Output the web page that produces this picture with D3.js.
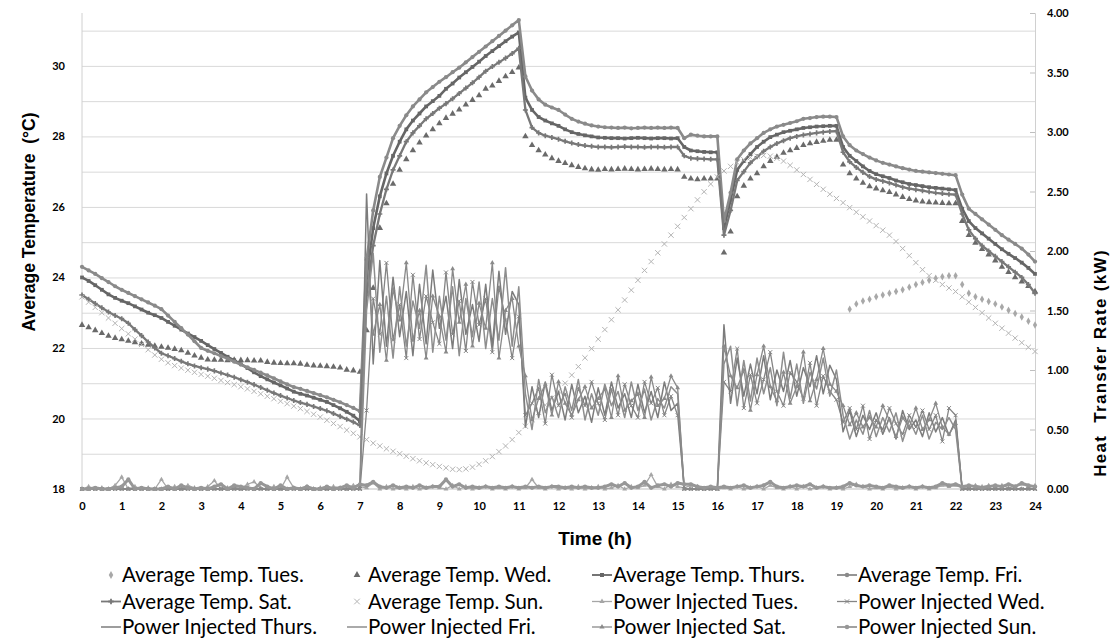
<!DOCTYPE html>
<html>
<head>
<meta charset="utf-8">
<script src="https://cdn.jsdelivr.net/npm/d3@7"></script>
<style>
  body { margin: 0; background: #fff; }
  text { fill: #000; }
</style>
</head>
<body>
<div id="chart"></div>
<script>
// Data (one row per hour, samples every 10 minutes)
const _ = null;
const hours = d3.range(0, 145).map(i => i / 6);
const hourTicks = d3.range(0, 25);
const tempTicks = [18, 20, 22, 24, 26, 28, 30];
const tempGrid = [19, 20, 21, 22, 23, 24, 25, 26, 27, 28, 29, 30, 31];
const powerTicks = [0, 0.5, 1, 1.5, 2, 2.5, 3, 3.5, 4];

const tempTues = [
  [_,_,_,_,_,_],[_,_,_,_,_,_],[_,_,_,_,_,_],[_,_,_,_,_,_],[_,_,_,_,_,_],
  [_,_,_,_,_,_],[_,_,_,_,_,_],[_,_,_,_,_,_],[_,_,_,_,_,_],[_,_,_,_,_,_],
  [_,_,_,_,_,_],[_,_,_,_,_,_],[_,_,_,_,_,_],[_,_,_,_,_,_],[_,_,_,_,_,_],
  [_,_,_,_,_,_],[_,_,_,_,_,_],[_,_,_,_,_,_],[_,_,_,_,_,_],
  [_, _, 23.10, 23.25, 23.33, 23.38],
  [23.45, 23.50, 23.55, 23.60, 23.65, 23.72],
  [23.80, 23.86, 23.92, 23.98, 24.02, 24.05],
  [24.05, 23.80, 23.55, 23.45, 23.38, 23.32],
  [23.25, 23.16, 23.07, 22.98, 22.88, 22.76],
  [22.65]
].flat();

const tempWed = [
  [22.65, 22.58, 22.50, 22.42, 22.34, 22.28],
  [22.24, 22.20, 22.16, 22.12, 22.09, 22.06],
  [22.03, 22.00, 21.97, 21.93, 21.86, 21.78],
  [21.72, 21.67, 21.66, 21.66, 21.65, 21.66],
  [21.65, 21.65, 21.64, 21.64, 21.60, 21.58],
  [21.57, 21.56, 21.56, 21.55, 21.52, 21.50],
  [21.49, 21.48, 21.46, 21.44, 21.38, 21.36],
  [21.32, 22.50, 23.70, 25.40, 26.10, 26.65],
  [27.05, 27.35, 27.60, 27.82, 28.02, 28.20],
  [28.37, 28.52, 28.64, 28.76, 28.90, 29.03],
  [29.16, 29.35, 29.44, 29.57, 29.70, 29.82],
  [29.95, 28.00, 27.75, 27.60, 27.48, 27.38],
  [27.30, 27.24, 27.18, 27.13, 27.09, 27.06],
  [27.05, 27.07, 27.06, 27.07, 27.08, 27.07],
  [27.06, 27.07, 27.08, 27.07, 27.06, 27.07],
  [27.06, 26.85, 26.80, 26.78, 26.80, 26.80],
  [26.80, 24.70, 25.30, 26.30, 26.60, 26.80],
  [26.95, 27.15, 27.30, 27.42, 27.53, 27.60],
  [27.67, 27.75, 27.80, 27.84, 27.87, 27.90],
  [27.90, 27.20, 26.95, 26.80, 26.68, 26.58],
  [26.52, 26.47, 26.42, 26.35, 26.28, 26.22],
  [26.18, 26.15, 26.13, 26.12, 26.11, 26.10],
  [26.10, 25.60, 25.20, 24.98, 24.80, 24.65],
  [24.48, 24.30, 24.15, 24.00, 23.88, 23.75],
  [23.60]
].flat();

const tempThurs = [
  [24.00, 23.90, 23.78, 23.65, 23.52, 23.42],
  [23.34, 23.27, 23.18, 23.09, 23.00, 22.93],
  [22.85, 22.74, 22.63, 22.52, 22.41, 22.31],
  [22.20, 22.08, 21.97, 21.86, 21.75, 21.65],
  [21.54, 21.43, 21.31, 21.20, 21.11, 21.02],
  [20.94, 20.85, 20.76, 20.70, 20.65, 20.59],
  [20.53, 20.47, 20.38, 20.29, 20.19, 20.08],
  [19.92, 24.00, 25.40, 26.30, 26.95, 27.45],
  [27.85, 28.20, 28.45, 28.65, 28.85, 29.00],
  [29.15, 29.35, 29.50, 29.67, 29.82, 29.97],
  [30.12, 30.28, 30.42, 30.56, 30.70, 30.83],
  [30.95, 29.10, 28.75, 28.55, 28.45, 28.37],
  [28.30, 28.20, 28.12, 28.07, 28.03, 28.00],
  [27.97, 27.96, 27.95, 27.95, 27.94, 27.95],
  [27.96, 27.95, 27.94, 27.95, 27.95, 27.94],
  [27.95, 27.70, 27.60, 27.58, 27.56, 27.55],
  [27.55, 25.40, 26.20, 27.05, 27.30, 27.50],
  [27.70, 27.85, 27.98, 28.05, 28.12, 28.16],
  [28.20, 28.24, 28.26, 28.28, 28.29, 28.30],
  [28.30, 27.70, 27.45, 27.30, 27.15, 27.02],
  [26.93, 26.87, 26.82, 26.75, 26.70, 26.65],
  [26.62, 26.59, 26.56, 26.54, 26.52, 26.50],
  [26.48, 25.95, 25.60, 25.40, 25.25, 25.10],
  [24.95, 24.80, 24.67, 24.55, 24.42, 24.27],
  [24.10]
].flat();

const tempFri = [
  [24.30, 24.20, 24.10, 23.98, 23.87, 23.75],
  [23.65, 23.56, 23.47, 23.38, 23.29, 23.20],
  [23.10, 22.92, 22.74, 22.56, 22.38, 22.19],
  [22.00, 21.92, 21.85, 21.77, 21.70, 21.61],
  [21.53, 21.45, 21.38, 21.30, 21.22, 21.14],
  [21.05, 20.97, 20.89, 20.84, 20.78, 20.72],
  [20.66, 20.60, 20.53, 20.46, 20.38, 20.30],
  [20.20, 24.50, 25.90, 26.85, 27.40, 27.95],
  [28.30, 28.60, 28.85, 29.05, 29.25, 29.40],
  [29.55, 29.68, 29.82, 29.95, 30.10, 30.25],
  [30.40, 30.55, 30.70, 30.85, 31.00, 31.15],
  [31.30, 29.70, 29.30, 29.05, 28.90, 28.82],
  [28.75, 28.62, 28.50, 28.42, 28.36, 28.31],
  [28.28, 28.26, 28.25, 28.24, 28.25, 28.23],
  [28.24, 28.25, 28.24, 28.25, 28.24, 28.25],
  [28.24, 27.95, 28.05, 28.02, 28.00, 28.00],
  [28.00, 25.60, 26.40, 27.35, 27.60, 27.80],
  [27.95, 28.10, 28.20, 28.28, 28.33, 28.38],
  [28.43, 28.50, 28.52, 28.55, 28.56, 28.56],
  [28.55, 28.00, 27.75, 27.60, 27.50, 27.40],
  [27.32, 27.25, 27.20, 27.15, 27.10, 27.06],
  [27.02, 27.00, 26.98, 26.96, 26.94, 26.92],
  [26.90, 26.35, 25.95, 25.80, 25.65, 25.50],
  [25.35, 25.20, 25.07, 24.95, 24.82, 24.65],
  [24.45]
].flat();

const tempSat = [
  [23.50, 23.38, 23.26, 23.14, 23.02, 22.92],
  [22.83, 22.70, 22.52, 22.35, 22.17, 22.00],
  [21.85, 21.78, 21.70, 21.62, 21.55, 21.49],
  [21.44, 21.40, 21.35, 21.29, 21.23, 21.17],
  [21.10, 21.03, 20.96, 20.88, 20.80, 20.72],
  [20.65, 20.58, 20.51, 20.45, 20.40, 20.34],
  [20.28, 20.22, 20.14, 20.06, 19.98, 19.90],
  [19.80, 23.50, 24.90, 25.80, 26.50, 27.05],
  [27.45, 27.85, 28.10, 28.30, 28.50, 28.65],
  [28.80, 28.93, 29.07, 29.22, 29.37, 29.52],
  [29.68, 29.85, 29.98, 30.10, 30.22, 30.35],
  [30.50, 28.75, 28.25, 28.10, 28.02, 27.97],
  [27.92, 27.86, 27.81, 27.77, 27.74, 27.72],
  [27.70, 27.70, 27.69, 27.70, 27.71, 27.70],
  [27.70, 27.69, 27.70, 27.70, 27.69, 27.70],
  [27.70, 27.45, 27.38, 27.37, 27.36, 27.35],
  [27.35, 25.20, 25.90, 26.75, 27.00, 27.25],
  [27.42, 27.58, 27.70, 27.80, 27.88, 27.95],
  [28.00, 28.04, 28.07, 28.10, 28.12, 28.14],
  [28.15, 27.55, 27.28, 27.12, 26.98, 26.86],
  [26.78, 26.73, 26.68, 26.62, 26.56, 26.52],
  [26.49, 26.46, 26.43, 26.40, 26.38, 26.36],
  [26.35, 25.80, 25.35, 25.10, 24.90, 24.75],
  [24.60, 24.45, 24.30, 24.15, 24.00, 23.80],
  [23.55]
].flat();

const tempSun = [
  [23.45, 23.30, 23.15, 23.00, 22.85, 22.70],
  [22.55, 22.40, 22.25, 22.10, 21.95, 21.80],
  [21.68, 21.58, 21.50, 21.43, 21.37, 21.31],
  [21.25, 21.20, 21.14, 21.08, 21.02, 20.96],
  [20.90, 20.84, 20.77, 20.70, 20.63, 20.56],
  [20.49, 20.42, 20.35, 20.28, 20.20, 20.12],
  [20.04, 19.95, 19.86, 19.77, 19.67, 19.58],
  [19.48, 19.40, 19.30, 19.22, 19.14, 19.07],
  [19.00, 18.93, 18.86, 18.80, 18.74, 18.69],
  [18.64, 18.60, 18.56, 18.55, 18.57, 18.62],
  [18.70, 18.80, 18.92, 19.06, 19.22, 19.40],
  [19.60, 19.78, 19.97, 20.17, 20.38, 20.58],
  [20.78, 21.00, 21.23, 21.47, 21.72, 21.98],
  [22.25, 22.52, 22.80, 23.08, 23.36, 23.64],
  [23.92, 24.20, 24.45, 24.70, 24.95, 25.20],
  [25.45, 25.70, 25.95, 26.20, 26.43, 26.65],
  [26.85, 27.02, 27.15, 27.26, 27.34, 27.40],
  [27.44, 27.46, 27.44, 27.38, 27.30, 27.18],
  [27.05, 26.92, 26.78, 26.64, 26.50, 26.36],
  [26.24, 26.12, 25.98, 25.85, 25.72, 25.60],
  [25.47, 25.34, 25.20, 25.02, 24.82, 24.62],
  [24.42, 24.22, 24.05, 23.92, 23.80, 23.70],
  [23.60, 23.45, 23.30, 23.15, 23.00, 22.85],
  [22.70, 22.56, 22.42, 22.28, 22.15, 22.02],
  [21.90]
].flat();

// Power injected (kW)
const powerTues = [
  [0, 0.02, 0, 0.01, 0, 0.03], [0.10, 0, 0.02, 0, 0.01, 0], [0.08, 0, 0.02, 0, 0.03, 0.01],
  [0, 0.02, 0.07, 0, 0.01, 0.02], [0, 0.04, 0.06, 0.01, 0, 0.02], [0, 0.10, 0.01, 0, 0.02, 0],
  [0.01, 0, 0.02, 0.01, 0, 0.03], [0.02, 0.01, 0.05, 0, 0.02, 0], [0.01, 0, 0.02, 0, 0.01, 0.02],
  [0.01, 0, 0.03, 0, 0.02, 0], [0.01, 0.02, 0, 0.01, 0, 0.02], [0, 0.01, 0.08, 0.01, 0, 0.02],
  [0, 0.01, 0, 0.02, 0, 0.01], [0.02, 0, 0.01, 0.03, 0, 0.02], [0.01, 0.03, 0.12, 0.02, 0, 0.04],
  [0.02, 0.01, 0.03, 0.02, 0, 0.01], [0, 0.01, 0, 0.02, 0, 0.01], [0.02, 0, 0.03, 0.01, 0, 0.02],
  [0, 0.02, 0, 0.01, 0.02, 0], [0.01, 0, 0.02, 0.04, 0.02, 0], [0.01, 0, 0.02, 0, 0.01, 0.02],
  [0, 0.02, 0, 0.01, 0.03, 0.02], [0.03, 0.01, 0.02, 0.03, 0.02, 0.03], [0.02, 0.03, 0.01, 0.02, 0.04, 0.02],
  [0.03]
].flat();

const powerWed = [
  [0,0,0,0,0,0],[0,0,0,0,0,0],[0,0,0,0,0,0],[0,0,0,0,0,0],[0,0,0,0,0,0],[0,0,0,0,0,0],[0,0,0,0,0,0],
  [0, 0.66, 1.60, 1.30, 1.90, 1.25],
  [1.55, 1.10, 1.80, 1.26, 1.62, 1.40],
  [1.22, 1.82, 1.30, 1.58, 1.16, 1.74],
  [1.38, 1.60, 1.15, 1.70, 1.42, 1.10],
  [1.45, 0.62, 0.72, 0.85, 0.55, 0.96],
  [0.70, 0.80, 0.60, 0.85, 0.70, 0.90],
  [0.72, 0.58, 0.84, 0.62, 0.88, 0.70],
  [0.60, 0.90, 0.72, 0.85, 0.62, 0.78],
  [0.62, 0, 0, 0, 0, 0],
  [0, 0.90, 0.82, 1.18, 0.68, 0.96],
  [0.72, 0.92, 1.15, 0.82, 0.70, 0.98],
  [0.90, 0.76, 1.06, 0.70, 0.95, 0.82],
  [0.75, 0.56, 0.68, 0.50, 0.70, 0.42],
  [0.58, 0.50, 0.68, 0.55, 0.46, 0.62],
  [0.52, 0.66, 0.50, 0.62, 0.40, 0.68],
  [0.62, 0, 0, 0, 0, 0],
  [0,0,0,0,0,0],
  [0]
].flat();

const powerThurs = [
  [0,0,0,0,0,0],[0,0,0,0,0,0],[0,0,0,0,0,0],[0,0,0,0,0,0],[0,0,0,0,0,0],[0,0,0,0,0,0],[0,0,0,0,0,0],
  [0, 2.48, 1.05, 1.92, 1.20, 1.78],
  [1.28, 1.66, 1.12, 1.72, 1.22, 1.84],
  [1.35, 1.62, 1.18, 1.76, 1.30, 1.55],
  [1.24, 1.72, 1.20, 1.83, 1.30, 1.66],
  [1.55, 0.52, 0.86, 0.60, 0.90, 0.66],
  [0.82, 0.58, 0.88, 0.64, 0.78, 0.56],
  [0.85, 0.62, 0.90, 0.68, 0.80, 0.60],
  [0.88, 0.64, 0.82, 0.60, 0.90, 0.66],
  [0.72, 0, 0, 0, 0, 0],
  [0, 1.38, 0.72, 1.10, 0.78, 1.05],
  [0.80, 1.12, 0.75, 1.00, 0.82, 1.08],
  [0.78, 1.02, 0.86, 1.12, 0.80, 1.04],
  [0.92, 0.48, 0.66, 0.44, 0.62, 0.50],
  [0.64, 0.46, 0.60, 0.42, 0.66, 0.50],
  [0.58, 0.44, 0.64, 0.48, 0.60, 0.45],
  [0.58, 0, 0, 0, 0, 0],
  [0,0,0,0,0,0],
  [0]
].flat();

const powerFri = [
  [0,0,0,0,0,0],[0,0,0,0,0,0],[0,0,0,0,0,0],[0,0,0,0,0,0],[0,0,0,0,0,0],[0,0,0,0,0,0],[0,0,0,0,0,0],
  [0, 1.50, 1.98, 1.15, 1.62, 1.10],
  [1.70, 1.20, 1.58, 1.35, 1.88, 1.15],
  [1.62, 1.25, 1.70, 1.12, 1.60, 1.28],
  [1.74, 1.18, 1.60, 1.25, 1.86, 1.20],
  [1.70, 0.80, 0.50, 0.92, 0.64, 0.78],
  [0.60, 0.86, 0.66, 0.92, 0.58, 0.80],
  [0.62, 0.88, 0.70, 0.82, 0.60, 0.90],
  [0.66, 0.84, 0.58, 0.76, 0.68, 0.86],
  [0.80, 0, 0, 0, 0, 0],
  [0, 1.05, 1.20, 0.70, 1.08, 0.74],
  [1.10, 0.80, 1.02, 0.70, 1.15, 0.76],
  [1.05, 0.72, 0.98, 0.84, 1.10, 0.78],
  [1.00, 0.62, 0.42, 0.58, 0.46, 0.66],
  [0.44, 0.60, 0.48, 0.64, 0.40, 0.58],
  [0.46, 0.62, 0.42, 0.56, 0.50, 0.60],
  [0.50, 0, 0, 0, 0, 0],
  [0,0,0,0,0,0],
  [0]
].flat();

const powerSat = [
  [0,0,0,0,0,0],[0,0,0,0,0,0],[0,0,0,0,0,0],[0,0,0,0,0,0],[0,0,0,0,0,0],[0,0,0,0,0,0],[0,0,0,0,0,0],
  [0, 1.95, 1.30, 1.55, 1.08, 1.68],
  [1.42, 1.90, 1.25, 1.50, 1.10, 1.62],
  [1.45, 1.15, 1.85, 1.40, 1.72, 1.20],
  [1.56, 1.35, 1.90, 1.10, 1.50, 1.60],
  [1.20, 0.95, 0.58, 0.76, 0.88, 0.62],
  [0.90, 0.72, 0.62, 0.75, 0.86, 0.68],
  [0.76, 0.84, 0.60, 0.95, 0.66, 0.74],
  [0.80, 0.60, 0.94, 0.70, 0.76, 0.95],
  [0.85, 0, 0, 0, 0, 0],
  [0, 1.20, 0.95, 0.85, 1.00, 0.66],
  [0.96, 1.20, 0.86, 0.74, 0.98, 0.72],
  [0.86, 1.15, 0.74, 0.92, 1.18, 0.88],
  [0.82, 0.70, 0.54, 0.64, 0.52, 0.60],
  [0.52, 0.70, 0.58, 0.44, 0.60, 0.52],
  [0.68, 0.50, 0.58, 0.72, 0.52, 0.46],
  [0.55, 0, 0, 0, 0, 0],
  [0,0,0,0,0,0],
  [0]
].flat();

const powerSun = [
  [0, 0, 0.01, 0, 0, 0.01], [0.02, 0.08, 0, 0.01, 0, 0], [0, 0.02, 0, 0.03, 0.01, 0],
  [0.01, 0, 0.02, 0.04, 0, 0.03], [0.02, 0.01, 0, 0.05, 0.02, 0], [0.03, 0, 0.01, 0, 0.02, 0],
  [0, 0.02, 0, 0.01, 0.03, 0.01], [0.04, 0.03, 0.06, 0.02, 0.01, 0.03], [0.01, 0.02, 0.01, 0.03, 0.01, 0.02],
  [0.02, 0.08, 0.02, 0.04, 0.01, 0.02], [0.01, 0.02, 0.01, 0.02, 0.01, 0.02], [0.01, 0.02, 0.01, 0.02, 0.01, 0.02],
  [0.02, 0.01, 0.02, 0.01, 0.02, 0.01], [0.01, 0.02, 0.04, 0.02, 0.05, 0.01], [0.02, 0.06, 0.01, 0.03, 0.04, 0.02],
  [0.05, 0.04, 0.04, 0.02, 0.01, 0.02], [0.01, 0.02, 0.01, 0.02, 0.03, 0.01], [0.02, 0.03, 0.06, 0.02, 0.01, 0.02],
  [0.03, 0.02, 0.04, 0.01, 0.02, 0.01], [0.01, 0.02, 0.05, 0.03, 0.02, 0.03], [0.02, 0.01, 0.03, 0.02, 0.01, 0.02],
  [0.01, 0.02, 0.01, 0.02, 0.05, 0.03], [0.04, 0.02, 0.03, 0.02, 0.01, 0.02], [0.03, 0.02, 0.04, 0.02, 0.05, 0.03],
  [0.02]
].flat();

// Layout
const W = 1111, H = 640;
const plotLeft = 82, plotRight = 1035, plotTop = 13, plotBottom = 489;

const svg = d3.select("#chart").append("svg")
    .attr("width", W)
    .attr("height", H)
    .style("font-family", "Lato, 'Open Sans', sans-serif");

const x = d3.scaleLinear().domain([0, 24]).range([plotLeft, plotRight]);
const yT = d3.scaleLinear().domain([18, 31.5]).range([plotBottom, plotTop]);
const yP = d3.scaleLinear().domain([0, 4]).range([plotBottom, plotTop]);

// gridlines
svg.append("g")
    .attr("transform", `translate(${plotLeft},0)`)
    .call(d3.axisLeft(yT).tickValues(tempGrid).tickSize(-(plotRight - plotLeft)).tickFormat(""))
    .call(g => g.select(".domain").remove())
    .call(g => g.selectAll("line").attr("stroke", "#d9d9d9").attr("stroke-width", 1));

// axis lines
svg.append("line").attr("x1", plotLeft).attr("x2", plotLeft).attr("y1", plotTop).attr("y2", plotBottom)
    .attr("stroke", "#d0d0d0");
svg.append("line").attr("x1", plotLeft).attr("x2", plotRight).attr("y1", plotBottom).attr("y2", plotBottom)
    .attr("stroke", "#bfbfbf");

// left axis labels
svg.append("g")
    .attr("transform", `translate(${plotLeft},0)`)
    .call(d3.axisLeft(yT).tickValues(tempTicks).tickSize(0).tickPadding(17).tickFormat(d3.format("d")))
    .call(g => g.select(".domain").remove())
    .call(g => g.selectAll("text").attr("font-size", 11).attr("font-weight", "bold")
        .attr("font-family", "Lato, sans-serif").attr("fill", "#000"));

// right axis
svg.append("g")
    .attr("transform", `translate(${plotRight},0)`)
    .call(d3.axisRight(yP).tickValues(powerTicks).tickSize(-5).tickPadding(12).tickFormat(d3.format(".2f")))
    .call(g => g.select(".domain").attr("stroke", "#d0d0d0"))
    .call(g => g.selectAll("line").attr("stroke", "#bfbfbf"))
    .call(g => g.selectAll("text").attr("font-size", 11).attr("font-weight", "bold")
        .attr("font-family", "Lato, sans-serif").attr("fill", "#000"));

// bottom axis labels
svg.append("g")
    .attr("transform", `translate(0,${plotBottom})`)
    .call(d3.axisBottom(x).tickValues(hourTicks).tickSize(0).tickPadding(13).tickFormat(d3.format("d")))
    .call(g => g.select(".domain").remove())
    .call(g => g.selectAll("text").attr("font-size", 11).attr("font-weight", "bold")
        .attr("font-family", "Lato, sans-serif").attr("fill", "#000"));

// axis titles
svg.append("text")
    .attr("transform", "translate(35,222) rotate(-90)")
    .attr("text-anchor", "middle")
    .style("white-space", "pre")
    .attr("font-family", "'Liberation Sans', Arial, sans-serif")
    .attr("font-weight", "bold")
    .attr("font-size", 17.5)
    .text("Average Temperature  (°C)");

svg.append("text")
    .attr("transform", "translate(1106,363) rotate(-90)")
    .attr("text-anchor", "middle")
    .style("white-space", "pre")
    .style("letter-spacing", "1.3px")
    .attr("font-family", "'Liberation Sans', Arial, sans-serif")
    .attr("font-weight", "bold")
    .attr("font-size", 17)
    .text("Heat  Transfer Rate (kW)");

svg.append("text")
    .attr("x", 595)
    .attr("y", 545)
    .attr("text-anchor", "middle")
    .attr("font-family", "'Liberation Sans', Arial, sans-serif")
    .attr("font-weight", "bold")
    .attr("font-size", 19)
    .text("Time (h)");

// series styles
const symTimes = d3.symbolTimes || d3.symbolCross;
const series = [
  { name: "Average Temp. Tues.", values: tempTues, y: yT, color: "#a8a8a8", line: 0, symbol: d3.symbolDiamond, size: 16 },
  { name: "Average Temp. Wed.", values: tempWed, y: yT, color: "#6a6a6a", line: 0, symbol: d3.symbolTriangle, size: 18 },
  { name: "Average Temp. Thurs.", values: tempThurs, y: yT, color: "#666666", line: 2.6, symbol: d3.symbolSquare, size: 14 },
  { name: "Average Temp. Fri.", values: tempFri, y: yT, color: "#8a8a8a", line: 2.6, symbol: d3.symbolCircle, size: 14 },
  { name: "Average Temp. Sat.", values: tempSat, y: yT, color: "#787878", line: 2.3, symbol: d3.symbolCross, size: 14 },
  { name: "Average Temp. Sun.", values: tempSun, y: yT, color: "#b4b4b4", line: 0, symbol: symTimes, size: 20, stroke: true },
  { name: "Power Injected Tues.", values: powerTues, y: yP, color: "#a6a6a6", line: 1.3, symbol: d3.symbolTriangle, size: 10 },
  { name: "Power Injected Wed.", values: powerWed, y: yP, color: "#858585", line: 1.3, symbol: symTimes, size: 12, stroke: true },
  { name: "Power Injected Thurs.", values: powerThurs, y: yP, color: "#7c7c7c", line: 1.5 },
  { name: "Power Injected Fri.", values: powerFri, y: yP, color: "#8e8e8e", line: 1.5 },
  { name: "Power Injected Sat.", values: powerSat, y: yP, color: "#8a8a8a", line: 1.3, symbol: d3.symbolTriangle, size: 10 },
  { name: "Power Injected Sun.", values: powerSun, y: yP, color: "#979797", line: 3, symbol: d3.symbolCircle, size: 14 }
];

const plot = svg.append("g");

series.forEach(s => {
  const pts = hours.map((h, i) => ({ h: h, v: s.values[i] }));
  if (s.line) {
    plot.append("path")
        .datum(pts)
        .attr("fill", "none")
        .attr("stroke", s.color)
        .attr("stroke-width", s.line)
        .attr("stroke-linejoin", "round")
        .attr("d", d3.line()
            .defined(d => d.v != null)
            .x(d => x(d.h))
            .y(d => s.y(d.v)));
  }
  if (s.symbol) {
    plot.append("g").selectAll("path")
        .data(pts.filter(d => d.v != null))
        .join("path")
        .attr("transform", d => `translate(${x(d.h)},${s.y(d.v)})`)
        .attr("d", d3.symbol().type(s.symbol).size(s.size))
        .attr("fill", s.stroke ? "none" : s.color)
        .attr("stroke", s.stroke ? s.color : "none")
        .attr("stroke-width", 1);
  }
});

// legend
const colX = [122, 368, 613, 858];
const rowY = [575, 601.5, 627];

const legend = svg.append("g");
series.forEach((s, i) => {
  const tx = colX[i % 4], cy = rowY[Math.floor(i / 4)];
  const g = legend.append("g");
  if (s.line) {
    g.append("line").attr("x1", tx - 21).attr("x2", tx - 1).attr("y1", cy).attr("y2", cy)
        .attr("stroke", s.color).attr("stroke-width", Math.min(s.line, 1.8));
  }
  if (s.symbol) {
    g.append("path")
        .attr("transform", `translate(${tx - 11},${cy})`)
        .attr("d", d3.symbol().type(s.symbol).size(s.size + 2))
        .attr("fill", s.stroke ? "none" : s.color)
        .attr("stroke", s.stroke ? s.color : "none");
  }
  g.append("text")
      .attr("x", tx)
      .attr("y", cy + 7)
      .attr("font-size", 20.5)
      .attr("fill", "#000")
      .text(s.name);
});
</script>
</body>
</html>
